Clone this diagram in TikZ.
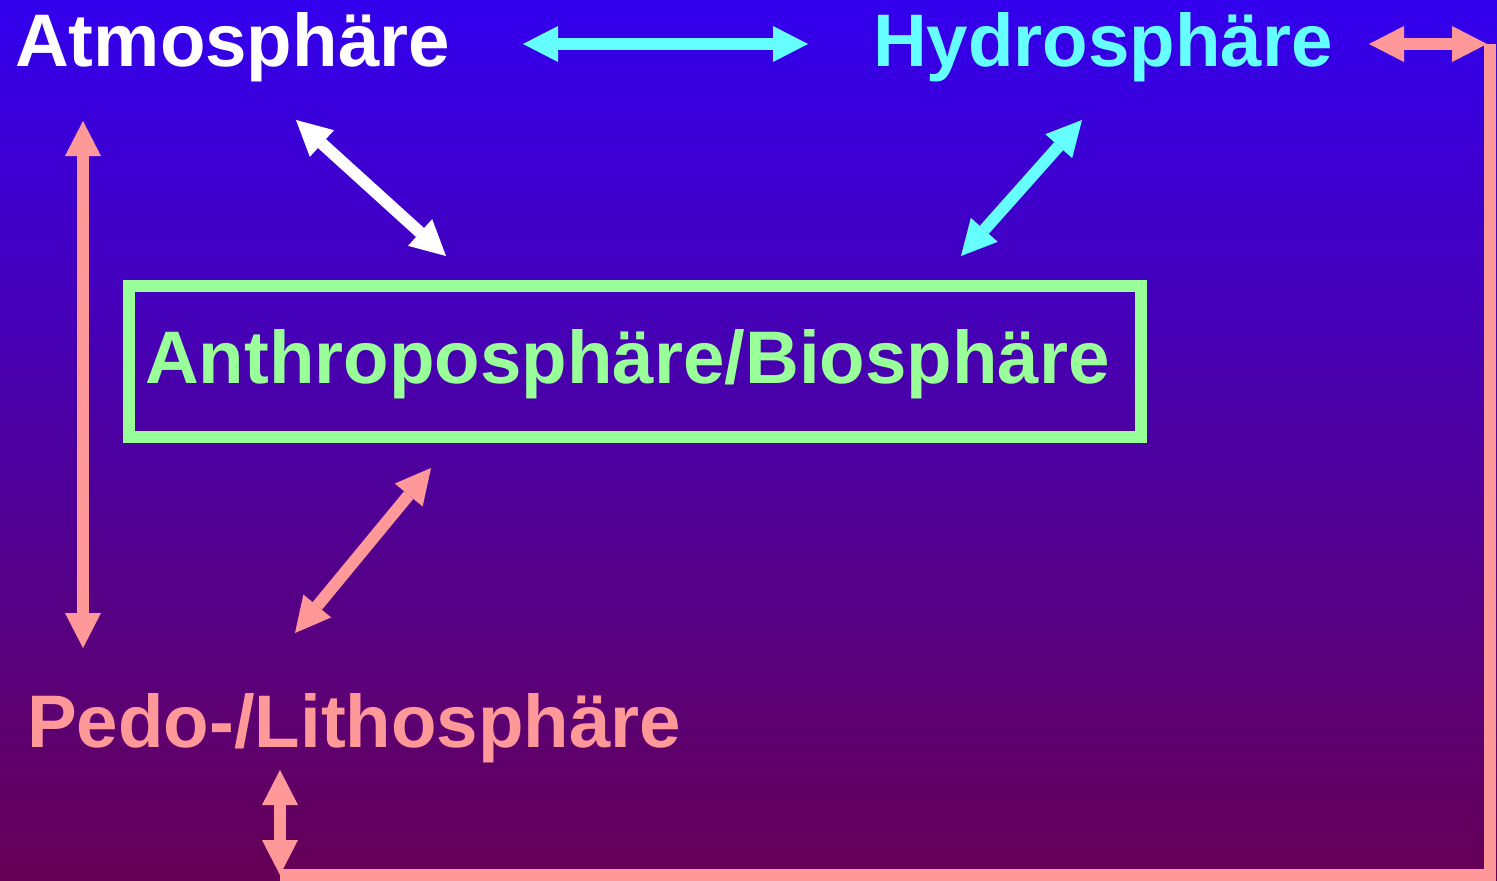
\documentclass[tikz,border=0pt]{standalone}
\usepackage{fontspec}
\setmainfont{Liberation Sans}
\usetikzlibrary{arrows.meta}
\definecolor{bgtop}{HTML}{3300EE}
\definecolor{bgbot}{HTML}{660055}
\definecolor{cyanc}{HTML}{66FFFF}
\definecolor{salmon}{HTML}{FF9999}
\definecolor{greenc}{HTML}{99FF99}
\begin{document}
\begin{tikzpicture}[x=1pt,y=-1pt,
  lbl/.style={anchor=base west, inner sep=0pt, font=\fontsize{74.5}{90}\selectfont\bfseries},
  tipx/.tip={Triangle[length=35pt,width=36pt,line width=0pt]},
  dbl/.style={line width=12pt, tipx-tipx},
]
\useasboundingbox (0,0) rectangle (1497,881);
\shade[top color=bgtop, bottom color=bgbot] (0,0) rectangle (1497,881);

% labels
\node[lbl, text=white]  (atmo)  at (15,66)  {Atmosphäre};
\node[lbl, text=cyanc]  (hydro) at (873,66) {Hydrosphäre};
\node[lbl, text=salmon] (pedo)  at (27,747) {Pedo-/Lithosphäre};
\node[draw=greenc, line width=12pt, minimum width=1012pt, minimum height=151pt, inner sep=0pt] (box) at (635,361.5) {};
\node[lbl, text=greenc] (anthro) at (145,383) {Anthroposphäre/Biosphäre};

% arrow end points
\coordinate (a1s) at (523,44);   \coordinate (a1e) at (808,44);
\coordinate (a2s) at (1369,44);  \coordinate (a2e) at (1487,44);
\coordinate (a3s) at (296,120);  \coordinate (a3e) at (446,256);
\coordinate (a4s) at (1082,120); \coordinate (a4e) at (961,256);
\coordinate (a5s) at (83,121);   \coordinate (a5e) at (83,648);
\coordinate (a6s) at (431,468);  \coordinate (a6e) at (295,633);
\coordinate (a7s) at (280,770);  \coordinate (a7e) at (280,875);
\coordinate (c1) at (1490,44);
\coordinate (c2) at (1490,875);
\coordinate (c3) at (280,875);

\draw[dbl, cyanc]  (a1s) -- (a1e);
\draw[dbl, salmon] (a2s) -- (a2e);
\draw[dbl, white]  (a3s) -- (a3e);
\draw[dbl, cyanc]  (a4s) -- (a4e);
\draw[dbl, salmon] (a5s) -- (a5e);
\draw[dbl, salmon] (a6s) -- (a6e);
\draw[dbl, salmon] (a7s) -- (a7e);
\draw[salmon, line width=12pt, line join=miter] (c1) -- (c2) -- (c3);
\end{tikzpicture}
\end{document}
